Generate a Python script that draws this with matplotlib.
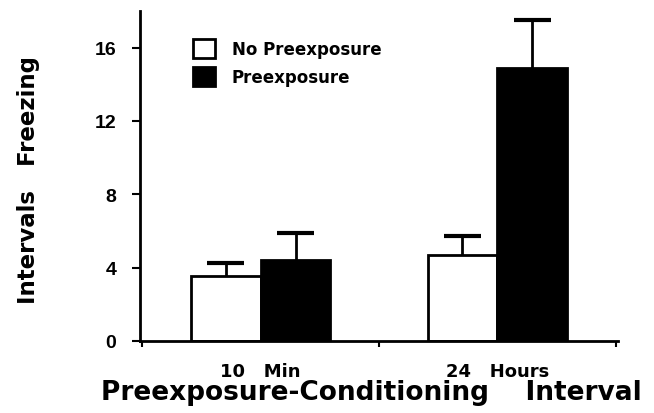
import matplotlib
matplotlib.use("Agg")
import matplotlib.pyplot as plt
from matplotlib.patches import Patch

# values
groups = ["10   Min", "24   Hours"]
no_preexp = [3.55, 4.7]
no_preexp_err = [0.7, 1.0]
preexp = [4.4, 14.9]
preexp_err = [1.5, 2.6]
yticks = [0, 4, 8, 12, 16]

plt.rcParams['font.family'] = ['DejaVu Sans']
plt.rcParams['font.weight'] = 'bold'

fig = plt.figure(figsize=(6.54, 4.14), dpi=100)
ax = fig.add_axes([0.214, 0.174, 0.731, 0.797])

centers = [1, 2]
w = 0.295
cap = 0.078
xw = [c - w / 2 for c in centers]
xb = [c + w / 2 for c in centers]

ax.bar(xw, no_preexp, w, color='white', edgecolor='black', linewidth=2, zorder=2)
ax.bar(xb, preexp, w, color='black', edgecolor='black', linewidth=2, zorder=2)

# upper error bars only
for xs, ys, es in [(xw, no_preexp, no_preexp_err), (xb, preexp, preexp_err)]:
    tops = [y + e for y, e in zip(ys, es)]
    ax.vlines(xs, ys, tops, color='black', linewidth=2, zorder=1)
    ax.hlines(tops, [x - cap for x in xs], [x + cap for x in xs], color='black',
              linewidth=3, zorder=1)

ax.set_xlim(0.49, 2.51)
ax.set_ylim(0, 18)
ax.set_yticks(yticks)
ax.set_yticklabels([str(t) for t in yticks], fontsize=14, fontweight='bold',
                   family='Liberation Sans')
ax.set_xticks([0.5, 1.5, 2.5])
ax.set_xticklabels([])
ax.tick_params(axis='x', direction='out', length=4, width=1.5)
ax.tick_params(axis='y', direction='out', length=6, width=1.5, pad=11)
for c, g in zip(centers, groups):
    ax.text(c, -1.15, g, ha='center', va='top', fontsize=13, fontweight='bold')

ax.spines['top'].set_visible(False)
ax.spines['right'].set_visible(False)
ax.spines['left'].set_linewidth(2)
ax.spines['bottom'].set_linewidth(2)

fig.text(0.568, 0.05, "Preexposure-Conditioning    Interval", ha='center', va='center',
         fontsize=19, fontweight='bold')
fig.text(0.043, 0.565, "Intervals   Freezing", ha='center', va='center', rotation=90,
         fontsize=16.5, fontweight='bold')

handles = [Patch(facecolor='white', edgecolor='black', linewidth=2),
           Patch(facecolor='black', edgecolor='black', linewidth=2)]
ax.legend(handles, ["No Preexposure", "Preexposure"], loc='upper left',
          bbox_to_anchor=(0.08, 0.96), frameon=False, fontsize=12,
          handlelength=1.3, handleheight=1.4, handletextpad=1.0, labelspacing=0.5)

fig.savefig("out.png", dpi=100)
